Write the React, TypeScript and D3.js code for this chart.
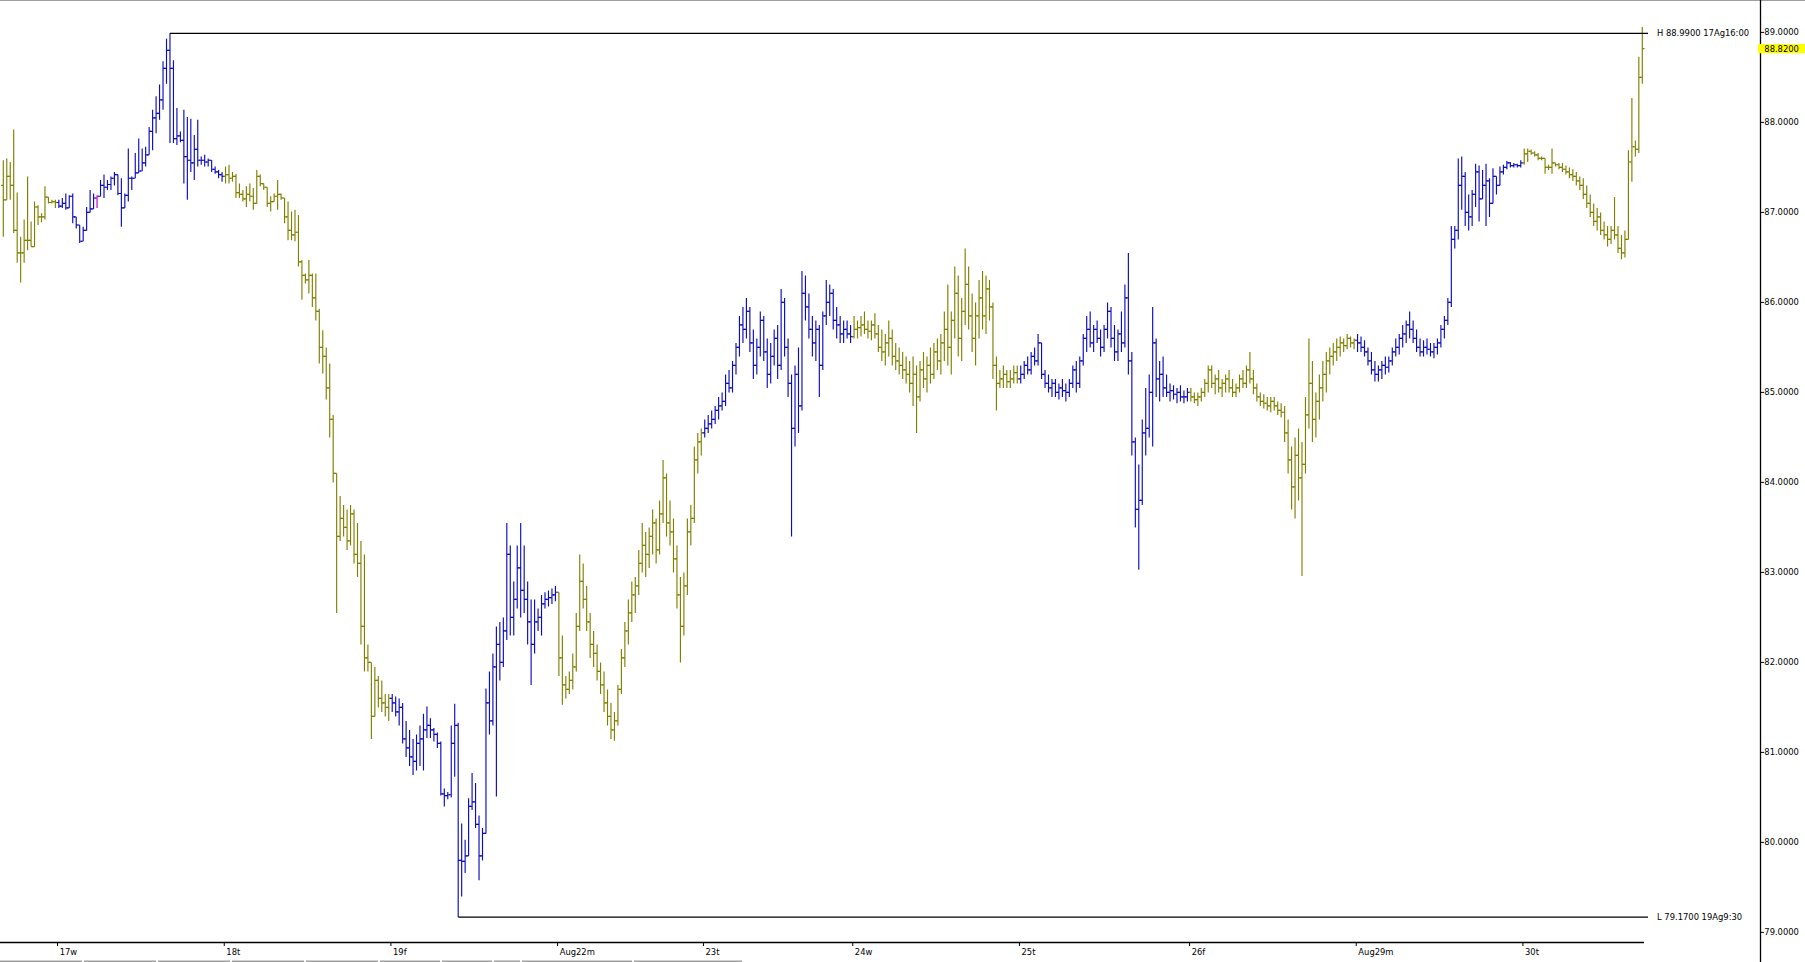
import * as d3 from "d3";

// 30-minute OHLC bars, 16 Aug (late) .. 30 Aug. Open of each bar = previous close.
const firstOpen = 87.3;

// bars per trading day and the label drawn at its first bar ("" = no label)
const dayBars = [16, 48, 48, 48, 42, 43, 48, 49, 48, 48, 35];
const dayLabels = ["", "17w", "18t", "19f", "Aug22m", "23t", "24w", "25t", "26f", "Aug29m", "30t"];
const dayColors = ["#808000", "#0c0cc0", "#808000", "#0c0cc0", "#808000", "#0c0cc0", "#808000", "#0c0cc0", "#808000", "#0c0cc0", "#808000"];
const markedBars = [27]; // drawn in magenta

const highs = [
  // 16
  87.58, 87.60, 87.56, 87.92, 87.22, 86.73, 86.92, 87.40, 86.90, 87.12, 87.08, 86.99, 87.29, 87.17, 87.14, 87.14,
  // 17
  87.14, 87.16, 87.21, 87.19, 87.21, 86.95, 86.86, 86.84, 87.06, 87.25, 87.21, 87.19, 87.36, 87.42, 87.36, 87.40,
  87.45, 87.42, 87.38, 87.21, 87.71, 87.40, 87.66, 87.82, 87.71, 87.73, 87.95, 88.14, 88.29, 88.42, 88.68, 88.93,
  88.99, 88.69, 88.16, 87.90, 88.14, 88.06, 88.04, 87.86, 88.03, 87.62, 87.64, 87.60, 87.58, 87.51, 87.47, 87.45,
  // 18
  87.51, 87.53, 87.45, 87.43, 87.32, 87.25, 87.29, 87.32, 87.27, 87.47, 87.42, 87.31, 87.27, 87.18, 87.21, 87.36,
  87.21, 87.16, 87.12, 87.01, 87.03, 86.97, 86.47, 86.32, 86.47, 86.32, 86.32, 85.93, 85.69, 85.50, 85.32, 84.75,
  84.10, 83.85, 83.75, 83.70, 83.75, 83.70, 83.55, 83.35, 83.20, 82.20, 81.95, 81.95, 81.85, 81.80, 81.65, 81.65,
  // 19
  81.65, 81.62, 81.60, 81.55, 81.35, 81.25, 81.15, 81.20, 81.30, 81.43, 81.51, 81.38, 81.27, 81.22, 81.12, 80.60,
  80.56, 81.30, 81.54, 81.33, 80.21, 80.03, 80.49, 80.77, 80.66, 80.30, 80.16, 81.71, 81.90, 82.10, 82.40, 82.45,
  82.50, 83.55, 83.30, 82.90, 83.30, 83.55, 83.30, 82.90, 82.70, 82.70, 82.60, 82.75, 82.78, 82.80, 82.82, 82.85,
  // 22
  82.75, 82.30, 81.85, 81.90, 82.10, 82.55, 83.20, 83.10, 82.85, 82.55, 82.35, 82.20, 82.00, 81.90, 81.70, 81.55,
  81.45, 81.75, 82.15, 82.45, 82.70, 82.90, 82.95, 83.25, 83.55, 83.45, 83.50, 83.70, 83.60, 83.80, 84.25, 84.10,
  83.80, 83.60, 83.30, 82.95, 83.00, 83.60, 83.75, 84.40, 84.55, 84.60,
  // 23
  84.70, 84.75, 84.80, 84.85, 84.95, 85.00, 85.20, 85.25, 85.35, 85.55, 85.85, 85.95, 86.05, 85.95, 85.70, 85.60,
  85.90, 85.85, 85.60, 85.55, 85.70, 85.75, 86.15, 86.05, 85.60, 85.20, 85.30, 85.50, 86.35, 86.30, 86.10, 85.85,
  85.80, 85.75, 85.90, 86.25, 86.20, 86.15, 85.95, 85.85, 85.80, 85.80, 85.75,
  // 24
  85.85, 85.80, 85.85, 85.90, 85.80, 85.80, 85.88, 85.75, 85.70, 85.65, 85.80, 85.70, 85.55, 85.50, 85.45, 85.40,
  85.35, 85.40, 85.30, 85.35, 85.45, 85.40, 85.50, 85.55, 85.60, 85.65, 85.90, 86.20, 85.90, 86.40, 86.30, 86.05,
  86.60, 86.40, 86.10, 86.00, 86.25, 86.35, 86.30, 86.25, 86.00, 85.40, 85.25, 85.30, 85.25, 85.25, 85.30, 85.30,
  // 25
  85.30, 85.35, 85.40, 85.45, 85.50, 85.65, 85.55, 85.25, 85.20, 85.15, 85.15, 85.10, 85.15, 85.10, 85.15, 85.30,
  85.35, 85.40, 85.65, 85.85, 85.90, 85.75, 85.80, 85.70, 85.75, 86.00, 85.95, 85.75, 85.70, 85.90, 86.20, 86.55,
  85.45, 84.50, 84.20, 84.70, 85.05, 85.20, 85.95, 85.60, 85.35, 85.40, 85.20, 85.10, 85.08, 85.05, 85.08, 85.02,
  85.05,
  // 26
  85.05, 85.00, 85.00, 85.05, 85.15, 85.30, 85.30, 85.20, 85.25, 85.15, 85.20, 85.25, 85.15, 85.10, 85.20, 85.25,
  85.30, 85.45, 85.25, 85.10, 85.00, 84.98, 84.95, 84.95, 84.95, 84.90, 84.88, 84.85, 84.70, 84.40, 84.50, 84.60,
  84.45, 84.95, 85.60, 85.35, 85.00, 85.20, 85.35, 85.45, 85.50, 85.55, 85.60, 85.62, 85.60, 85.65, 85.62, 85.60,
  // 29
  85.65, 85.62, 85.58, 85.50, 85.45, 85.35, 85.30, 85.35, 85.40, 85.40, 85.50, 85.60, 85.65, 85.75, 85.80, 85.90,
  85.80, 85.70, 85.60, 85.58, 85.60, 85.55, 85.55, 85.60, 85.75, 85.85, 86.05, 86.85, 86.85, 87.60, 87.62, 87.45,
  87.20, 87.25, 87.54, 87.52, 87.47, 87.54, 87.38, 87.49, 87.38, 87.51, 87.53, 87.57, 87.56, 87.55, 87.54, 87.58,
  // 30
  87.71, 87.71, 87.70, 87.68, 87.66, 87.62, 87.60, 87.53, 87.71, 87.55, 87.55, 87.55, 87.52, 87.50, 87.48, 87.45,
  87.40, 87.38, 87.30, 87.20, 87.10, 87.05, 87.00, 86.90, 86.85, 86.85, 87.17, 86.85, 86.75, 86.80, 87.69, 88.27,
  87.80, 88.73, 89.06,
];

const lows = [
  // 16
  86.73, 87.14, 87.14, 86.77, 86.44, 86.22, 86.44, 86.58, 86.62, 86.62, 86.86, 86.89, 86.92, 87.10, 87.10, 87.05,
  // 17
  87.05, 87.05, 87.03, 87.05, 86.88, 86.82, 86.66, 86.68, 86.80, 87.00, 87.04, 87.05, 87.18, 87.16, 87.25, 87.25,
  87.30, 87.19, 86.84, 87.05, 87.12, 87.25, 87.38, 87.44, 87.46, 87.51, 87.64, 87.69, 87.88, 88.03, 88.14, 88.43,
  87.77, 87.77, 87.75, 87.78, 87.32, 87.14, 87.45, 87.36, 87.51, 87.53, 87.51, 87.51, 87.45, 87.43, 87.38, 87.34,
  // 18
  87.32, 87.32, 87.34, 87.16, 87.16, 87.12, 87.06, 87.12, 87.03, 87.10, 87.29, 87.25, 87.06, 87.01, 87.12, 87.03,
  87.14, 86.88, 86.69, 86.69, 86.68, 86.40, 86.03, 86.21, 86.10, 85.95, 85.80, 85.32, 85.21, 84.92, 84.50, 84.00,
  82.55, 83.35, 83.40, 83.25, 83.30, 83.10, 82.95, 82.20, 81.90, 81.90, 81.15, 81.45, 81.50, 81.45, 81.40, 81.35,
  // 19
  81.45, 81.40, 81.30, 81.10, 80.95, 80.85, 80.75, 80.80, 80.85, 80.80, 81.16, 81.16, 81.12, 81.05, 80.52, 80.40,
  80.48, 80.50, 80.73, 79.17, 79.40, 79.66, 79.85, 80.36, 80.16, 79.58, 79.80, 80.10, 81.20, 81.30, 80.51, 81.80,
  81.95, 82.25, 82.30, 82.30, 82.60, 82.50, 82.55, 82.20, 81.75, 82.10, 82.35, 82.30, 82.60, 82.62, 82.65, 82.68,
  // 22
  81.85, 81.53, 81.60, 81.65, 81.70, 81.90, 82.35, 82.60, 82.35, 82.05, 81.95, 81.80, 81.65, 81.45, 81.30, 81.15,
  81.13, 81.30, 81.65, 81.95, 82.20, 82.45, 82.55, 82.75, 83.00, 82.95, 83.05, 83.20, 83.10, 83.20, 83.55, 83.40,
  83.30, 83.00, 82.60, 82.00, 82.30, 82.75, 83.30, 83.55, 84.10, 84.30,
  // 23
  84.50, 84.55, 84.60, 84.65, 84.70, 84.80, 84.85, 85.00, 85.00, 85.20, 85.40, 85.55, 85.60, 85.45, 85.15, 85.20,
  85.40, 85.35, 85.05, 85.10, 85.30, 85.15, 85.25, 85.40, 84.95, 83.40, 84.40, 84.55, 84.80, 85.80, 85.60, 85.40,
  85.35, 84.95, 85.25, 85.75, 85.85, 85.70, 85.60, 85.55, 85.55, 85.60, 85.55,
  // 24
  85.60, 85.60, 85.62, 85.65, 85.60, 85.58, 85.60, 85.45, 85.35, 85.30, 85.40, 85.30, 85.25, 85.20, 85.15, 85.10,
  85.00, 84.85, 84.55, 84.90, 85.05, 85.00, 85.10, 85.15, 85.25, 85.20, 85.35, 85.30, 85.20, 85.60, 85.40, 85.35,
  85.75, 85.70, 85.45, 85.30, 85.60, 85.70, 85.65, 85.80, 85.15, 84.80, 85.05, 85.05, 85.05, 85.05, 85.10, 85.10,
  // 25
  85.10, 85.15, 85.20, 85.20, 85.30, 85.30, 85.15, 85.05, 85.00, 84.95, 84.95, 84.92, 84.95, 84.90, 84.95, 85.05,
  85.00, 85.05, 85.30, 85.45, 85.50, 85.45, 85.55, 85.40, 85.45, 85.60, 85.50, 85.35, 85.35, 85.45, 85.50, 85.20,
  84.30, 83.50, 83.03, 83.75, 84.30, 84.50, 84.40, 84.95, 84.90, 84.95, 84.95, 84.90, 84.92, 84.88, 84.90, 84.88,
  84.90,
  // 26
  84.90, 84.88, 84.85, 84.90, 84.95, 85.00, 85.05, 84.98, 85.00, 84.95, 85.00, 85.00, 84.95, 84.95, 85.00, 85.05,
  85.05, 85.10, 84.98, 84.90, 84.85, 84.82, 84.80, 84.78, 84.80, 84.75, 84.72, 84.45, 84.10, 83.70, 83.60, 83.80,
  82.96, 84.10, 84.60, 84.45, 84.50, 84.70, 84.90, 85.00, 85.20, 85.30, 85.35, 85.40, 85.45, 85.48, 85.50, 85.48,
  // 29
  85.45, 85.45, 85.40, 85.30, 85.20, 85.12, 85.12, 85.15, 85.20, 85.22, 85.30, 85.40, 85.42, 85.50, 85.55, 85.60,
  85.55, 85.45, 85.40, 85.40, 85.42, 85.40, 85.38, 85.42, 85.50, 85.60, 85.75, 85.95, 86.60, 86.70, 87.03, 86.85,
  86.80, 86.85, 87.06, 86.90, 87.15, 86.85, 86.95, 87.10, 87.20, 87.30, 87.42, 87.48, 87.50, 87.50, 87.50, 87.50,
  // 30
  87.53, 87.56, 87.64, 87.62, 87.58, 87.58, 87.43, 87.47, 87.43, 87.51, 87.48, 87.45, 87.42, 87.38, 87.35, 87.30,
  87.25, 87.15, 87.05, 86.95, 86.85, 86.80, 86.75, 86.70, 86.62, 86.65, 86.70, 86.55, 86.48, 86.50, 86.85, 87.34,
  87.62, 87.66, 88.43,
];

const closes = [
  // 16
  87.14, 87.40, 87.30, 86.80, 86.55, 86.55, 86.69, 86.69, 86.62, 87.06, 86.95, 86.95, 87.17, 87.11, 87.12, 87.11,
  // 17
  87.07, 87.10, 87.05, 87.18, 86.95, 86.86, 86.68, 86.80, 87.00, 87.04, 87.16, 87.18, 87.30, 87.28, 87.31, 87.38,
  87.42, 87.21, 87.05, 87.19, 87.38, 87.38, 87.44, 87.46, 87.55, 87.64, 87.90, 88.05, 88.10, 88.25, 88.60, 88.80,
  88.60, 87.82, 87.85, 87.80, 87.62, 87.58, 87.55, 87.70, 87.58, 87.58, 87.56, 87.58, 87.48, 87.45, 87.42, 87.40,
  // 18
  87.42, 87.38, 87.40, 87.22, 87.20, 87.15, 87.20, 87.18, 87.10, 87.40, 87.32, 87.28, 87.10, 87.12, 87.18, 87.20,
  87.16, 86.95, 86.80, 86.75, 86.78, 86.45, 86.30, 86.25, 86.30, 86.05, 85.90, 85.50, 85.40, 85.05, 84.70, 84.10,
  83.40, 83.60, 83.50, 83.35, 83.65, 83.20, 83.10, 82.40, 82.05, 82.00, 81.40, 81.80, 81.60, 81.55, 81.50, 81.60,
  // 19
  81.55, 81.45, 81.50, 81.15, 81.05, 80.95, 80.90, 81.10, 81.15, 81.25, 81.30, 81.25, 81.20, 81.10, 80.54, 80.52,
  80.53, 81.10, 81.30, 79.80, 79.79, 79.85, 80.40, 80.45, 80.20, 79.85, 80.10, 81.55, 81.35, 81.95, 82.20, 82.00,
  82.35, 83.20, 82.50, 82.70, 83.05, 82.80, 82.70, 82.45, 82.20, 82.45, 82.50, 82.65, 82.70, 82.72, 82.75, 82.78,
  // 22
  82.05, 81.75, 81.70, 81.80, 81.95, 82.40, 82.90, 82.70, 82.45, 82.20, 82.10, 81.90, 81.75, 81.55, 81.40, 81.25,
  81.35, 81.70, 82.05, 82.35, 82.55, 82.75, 82.85, 83.10, 83.30, 83.20, 83.40, 83.55, 83.25, 83.65, 84.05, 83.55,
  83.45, 83.15, 82.75, 82.40, 82.85, 83.45, 83.60, 84.25, 84.45, 84.55,
  // 23
  84.60, 84.65, 84.70, 84.80, 84.85, 84.90, 85.10, 85.05, 85.30, 85.50, 85.75, 85.70, 85.90, 85.55, 85.30, 85.50,
  85.80, 85.45, 85.20, 85.40, 85.60, 85.30, 86.00, 85.50, 85.10, 84.60, 85.20, 84.85, 86.10, 85.95, 85.70, 85.55,
  85.70, 85.30, 85.85, 86.00, 86.10, 85.80, 85.75, 85.65, 85.70, 85.65, 85.62,
  // 24
  85.70, 85.72, 85.75, 85.70, 85.68, 85.75, 85.65, 85.50, 85.45, 85.55, 85.60, 85.40, 85.35, 85.30, 85.25, 85.20,
  85.10, 85.20, 84.95, 85.25, 85.15, 85.30, 85.20, 85.45, 85.35, 85.55, 85.70, 85.50, 85.80, 86.10, 85.60, 85.90,
  86.20, 85.85, 85.60, 85.85, 86.05, 85.85, 86.15, 85.95, 85.30, 85.10, 85.15, 85.20, 85.12, 85.15, 85.22, 85.15,
  // 25
  85.20, 85.30, 85.25, 85.40, 85.35, 85.55, 85.20, 85.10, 85.05, 85.10, 85.00, 85.05, 85.02, 85.00, 85.10, 85.25,
  85.10, 85.35, 85.60, 85.70, 85.55, 85.70, 85.60, 85.50, 85.70, 85.90, 85.60, 85.45, 85.65, 85.55, 86.05, 85.35,
  84.45, 83.70, 83.80, 84.55, 84.60, 85.00, 85.55, 85.15, 85.20, 85.05, 85.00, 85.02, 84.98, 85.00, 84.95, 84.95,
  85.00,
  // 26
  84.95, 84.92, 84.95, 85.00, 85.10, 85.25, 85.10, 85.15, 85.05, 85.10, 85.15, 85.05, 85.00, 85.05, 85.15, 85.10,
  85.25, 85.15, 85.05, 84.95, 84.90, 84.88, 84.85, 84.90, 84.85, 84.80, 84.78, 84.55, 84.25, 83.95, 84.30, 84.05,
  84.20, 84.75, 85.10, 84.70, 84.90, 85.05, 85.20, 85.35, 85.40, 85.45, 85.50, 85.55, 85.52, 85.60, 85.55, 85.58,
  // 29
  85.55, 85.50, 85.45, 85.35, 85.25, 85.20, 85.25, 85.30, 85.28, 85.35, 85.45, 85.50, 85.60, 85.65, 85.75, 85.70,
  85.60, 85.50, 85.45, 85.50, 85.48, 85.45, 85.50, 85.55, 85.70, 85.80, 86.00, 86.70, 86.80, 87.30, 87.40, 87.00,
  86.95, 87.20, 87.45, 87.15, 87.30, 87.35, 87.10, 87.40, 87.30, 87.45, 87.50, 87.55, 87.52, 87.53, 87.52, 87.55,
  // 30
  87.65, 87.68, 87.66, 87.64, 87.60, 87.60, 87.50, 87.50, 87.55, 87.53, 87.50, 87.48, 87.45, 87.42, 87.40, 87.35,
  87.30, 87.20, 87.10, 87.00, 86.90, 86.95, 86.80, 86.75, 86.70, 86.80, 86.75, 86.60, 86.55, 86.70, 87.56, 87.73,
  87.70, 88.50, 88.82,
];

// range markers shown by the platform
const highMark = 88.99;
const highBar = 48;
const highTime = "17Ag16:00";
const lowMark = 79.17;
const lowBar = 131;
const lowTime = "19Ag9:30";

const yTicks = [79, 80, 81, 82, 83, 84, 85, 86, 87, 88, 89];

const W = 1805;
const H = 962;
const FONT = "'DejaVu Sans', Verdana, sans-serif";
const magenta = "#c000c0";

export default function App() {
  const n = closes.length;
  const x = d3.scaleLinear().domain([0, n - 1]).range([3.3, 1642.3]);
  const y = d3.scaleLinear().domain([79, 89]).range([932.4, 32.4]);
  const fmt = d3.format(".4f");

  const axisX = 1760.5;
  const axisY = 942.5;
  const markEnd = 1648;

  // colour for each bar from its trading day
  const barColor: string[] = [];
  const dayStarts: number[] = [];
  let acc = 0;
  dayBars.forEach((cnt, d) => {
    dayStarts.push(acc);
    for (let k = 0; k < cnt; k++) barColor.push(dayColors[d]);
    acc += cnt;
  });

  const last = closes[n - 1];

  return (
    <svg
      width={W}
      height={H}
      viewBox={`0 0 ${W} ${H}`}
      style={{ position: "absolute", left: 0, top: 0, display: "block", background: "#fff" }}
      fontFamily={FONT}
    >
      <line x1={0} x2={W} y1={0.5} y2={0.5} stroke="#a0a0a0" />

      {/* OHLC bars */}
      <g fill="none" strokeWidth={1.15}>
        {closes.map((c, i) => {
          const o = i === 0 ? firstOpen : closes[i - 1];
          const hi = Math.max(highs[i], o, c);
          const lo = Math.min(lows[i], o, c);
          const xi = x(i);
          const d = `M${xi},${y(hi)}V${y(lo)}M${xi - 2.2},${y(o)}H${xi}M${xi},${y(c)}H${xi + 2.2}`;
          const col = markedBars.includes(i) ? magenta : barColor[i];
          return <path key={i} d={d} stroke={col} />;
        })}
      </g>

      {/* high / low markers */}
      <g stroke="#000" strokeWidth={1.3}>
        <line x1={x(highBar)} x2={markEnd} y1={y(highMark)} y2={y(highMark)} />
        <line x1={x(lowBar)} x2={markEnd} y1={y(lowMark)} y2={y(lowMark)} />
      </g>
      <g fontSize={8.4} fill="#000" dominantBaseline="central">
        <text x={1657} y={y(highMark)}>{`H ${fmt(highMark)} ${highTime}`}</text>
        <text x={1657} y={y(lowMark)}>{`L ${fmt(lowMark)} ${lowTime}`}</text>
      </g>

      {/* price axis */}
      <line x1={axisX} x2={axisX} y1={0} y2={H} stroke="#000" strokeWidth={1.3} />
      <g fontSize={8.4} fill="#000">
        {yTicks.map((v) => (
          <g key={v}>
            <line x1={axisX} x2={axisX + 3.5} y1={y(v)} y2={y(v)} stroke="#000" />
            <text x={axisX + 3.8} y={y(v)} dominantBaseline="central">
              {fmt(v)}
            </text>
          </g>
        ))}
        <rect x={1758} y={y(last) - 4.6} width={W - 1758} height={9.2} fill="#ffff00" />
        <text x={axisX + 3.8} y={y(last)} dominantBaseline="central">
          {fmt(last)}
        </text>
      </g>

      {/* time axis */}
      <line x1={0} x2={1644} y1={axisY} y2={axisY} stroke="#000" strokeWidth={1.3} />
      <g fontSize={8.4} fill="#000">
        {dayStarts.map((s, d) =>
          dayLabels[d] ? (
            <g key={d}>
              <line x1={x(s) - 1.3} x2={x(s) - 1.3} y1={axisY} y2={axisY + 3.5} stroke="#000" />
              <text x={x(s) + 0.8} y={955}>
                {dayLabels[d]}
              </text>
            </g>
          ) : null
        )}
      </g>

      {/* bottom tab strip */}
      <g stroke="#a0a0a0" strokeWidth={1.5}>
        {[[0, 82], [84, 156], [158, 230], [232, 304], [306, 378], [380, 440], [442, 492], [494, 520], [522, 632], [634, 742]].map(
          ([a, b], k) => (
            <line key={k} x1={a} x2={b} y1={961.2} y2={961.2} />
          )
        )}
      </g>
    </svg>
  );
}
